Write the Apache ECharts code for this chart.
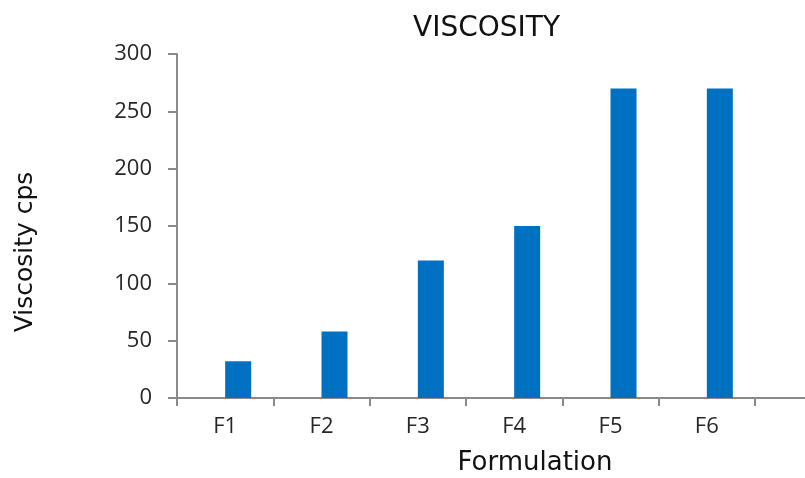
<!DOCTYPE html>
<html>
<head>
<meta charset="utf-8">
<script src="https://cdn.jsdelivr.net/npm/echarts@6/dist/echarts.min.js"></script>
<style>html,body{margin:0;padding:0;background:#fff}#c{width:805px;height:478px}</style>
</head>
<body>
<div id="c"></div>
<script>
const categories = ['F1', 'F2', 'F3', 'F4', 'F5', 'F6'];
const viscosity = [32, 58, 120, 150, 270, 270];
const yTicks = [0, 50, 100, 150, 200, 250, 300];
const chartTitle = 'VISCOSITY';
const xName = 'Formulation';
const yName = 'Viscosity cps';

const axisColor = '#8a8a8a';
const chart = echarts.init(document.getElementById('c'));
chart.setOption({
  animation: false,
  backgroundColor: '#ffffff',
  grid: { left: 177, top: 54, width: 578, height: 344 },
  xAxis: {
    type: 'category',
    data: categories,
    boundaryGap: true,
    axisLine: { show: true, lineStyle: { color: axisColor, width: 2 } },
    axisTick: { show: true, inside: false, length: 8, alignWithLabel: false, lineStyle: { color: axisColor, width: 2 } },
    axisLabel: { margin: 18, color: '#262626', fontFamily: 'Open Sans', fontSize: 22 },
    splitLine: { show: false }
  },
  yAxis: {
    type: 'value',
    min: yTicks[0],
    max: yTicks[yTicks.length - 1],
    interval: yTicks[1] - yTicks[0],
    axisLine: { show: true, lineStyle: { color: axisColor, width: 2 } },
    axisTick: { show: true, inside: false, length: 9, lineStyle: { color: axisColor, width: 2 } },
    axisLabel: { margin: 25, color: '#262626', fontFamily: 'Open Sans', fontSize: 22 },
    splitLine: { show: false }
  },
  series: [
    { type: 'bar', data: categories.map(() => '-'), barWidth: 26, barGap: 0 },
    { type: 'bar', data: viscosity, barWidth: 26, barGap: 0, itemStyle: { color: '#0070C0' } }
  ],
  graphic: [
    { type: 'line', shape: { x1: 755, y1: 398, x2: 805, y2: 398 }, style: { stroke: axisColor, lineWidth: 2 }, z: 5 },
    { type: 'text', left: 413, top: 15, style: { text: chartTitle, font: '28px "DejaVu Sans"', fill: '#111' } },
    { type: 'text', x: 535, y: 463, style: { text: xName, font: '26px "DejaVu Sans"', fill: '#111', textAlign: 'center', textVerticalAlign: 'middle' } },
    { type: 'text', x: 25, y: 252, rotation: Math.PI / 2, style: { text: yName, font: '25px "DejaVu Sans"', fill: '#111', textAlign: 'center', textVerticalAlign: 'middle' } }
  ]
});
</script>
</body>
</html>
